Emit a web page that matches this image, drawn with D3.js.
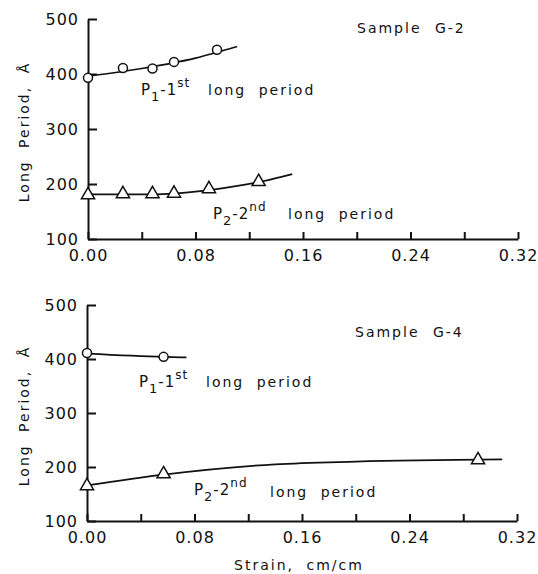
<!DOCTYPE html>
<html>
<head>
<meta charset="utf-8">
<script src="https://cdn.jsdelivr.net/npm/d3@7"></script>
<style>
  body { margin: 0; background: #fff; }
  svg text { font-family: "DejaVu Sans", sans-serif; fill: #111; }
  .axis path, .axis line { stroke: #111; stroke-width: 2; }
  .axis text { font-size: 16px; letter-spacing: 1px; }
</style>
</head>
<body>
<svg id="chart" width="538" height="574"></svg>
<script>
// Tick values
const strainTicks = [0, 0.04, 0.08, 0.12, 0.16, 0.20, 0.24, 0.28, 0.32];
const periodTicks = [100, 200, 300, 400, 500];

// Sample G-2, measured points
const g2P1Strain = [0, 0.026, 0.048, 0.064, 0.096];
const g2P1Period = [393, 411, 410, 422, 444];
const g2P2Strain = [0, 0.026, 0.048, 0.064, 0.090, 0.127];
const g2P2Period = [180, 182, 182, 183, 191, 204];
// Sample G-2, drawn curves
const g2P1FitStrain = [0, 0.04, 0.08, 0.111];
const g2P1FitPeriod = [396, 410, 429, 450];
const g2P2FitStrain = [0, 0.05, 0.08, 0.11, 0.13, 0.152];
const g2P2FitPeriod = [181, 181, 186, 196, 205, 218];

// Sample G-4, measured points
const g4P1Strain = [0, 0.057];
const g4P1Period = [411, 404];
const g4P2Strain = [0, 0.057, 0.291];
const g4P2Period = [165, 187, 213];
// Sample G-4, drawn curves
const g4P1FitStrain = [0, 0.057, 0.074];
const g4P1FitPeriod = [410, 404, 403];
const g4P2FitStrain = [0, 0.057, 0.14, 0.20, 0.309];
const g4P2FitPeriod = [166, 186, 205, 210, 214];

const svg = d3.select("#chart");

const panels = [
  { title: "Sample G-2", x0: 88, x1: 518, y0: 239, y1: 19,
    p1: [g2P1Strain, g2P1Period], p2: [g2P2Strain, g2P2Period],
    f1: [g2P1FitStrain, g2P1FitPeriod], f2: [g2P2FitStrain, g2P2FitPeriod],
    titlePos: [357, 33],
    l1: { p: [141, 95], lp: [208, 95] },
    l2: { p: [213, 219], lp: [288, 219] } },
  { title: "Sample G-4", x0: 87, x1: 517, y0: 521, y1: 305,
    p1: [g4P1Strain, g4P1Period], p2: [g4P2Strain, g4P2Period],
    f1: [g4P1FitStrain, g4P1FitPeriod], f2: [g4P2FitStrain, g4P2FitPeriod],
    titlePos: [355, 337],
    l1: { p: [139, 387], lp: [206, 387] },
    l2: { p: [194, 495], lp: [270, 497] } }
];

const zip = (xs, ys) => xs.map((v, i) => [v, ys[i]]);

panels.forEach(pn => {
  const x = d3.scaleLinear().domain([0, 0.32]).range([pn.x0, pn.x1]);
  const y = d3.scaleLinear().domain([100, 500]).range([pn.y0, pn.y1]);
  const g = svg.append("g");

  // x axis, ticks pointing up
  const xAxis = g.append("g")
    .attr("class", "axis")
    .attr("transform", `translate(0,${pn.y0})`)
    .call(d3.axisBottom(x)
      .tickValues(strainTicks)
      .tickSizeInner(-7).tickSizeOuter(0)
      .tickFormat((d, i) => i % 2 === 0 ? d3.format(".2f")(d) : ""));
  xAxis.selectAll("text").attr("y", 11).attr("dy", "0.71em");

  // y axis, ticks pointing right
  const yAxis = g.append("g")
    .attr("class", "axis")
    .attr("transform", `translate(${pn.x0},0)`)
    .call(d3.axisLeft(y)
      .tickValues(periodTicks)
      .tickSizeInner(-9).tickSizeOuter(0)
      .tickFormat(d3.format("d")));
  yAxis.selectAll("text").attr("x", -9);

  // y axis title
  g.append("text")
    .attr("transform", `translate(29,${(pn.y0 + pn.y1) / 2 + 3}) rotate(-90)`)
    .attr("text-anchor", "middle")
    .style("font-size", "14px")
    .style("letter-spacing", "2px")
    .style("word-spacing", "6px")
    .text("Long Period, Å");

  // curves
  const line = d3.line()
    .x(d => x(d[0])).y(d => y(d[1]))
    .curve(d3.curveMonotoneX);
  [pn.f1, pn.f2].forEach(f => {
    g.append("path")
      .datum(zip(f[0], f[1]))
      .attr("fill", "none")
      .attr("stroke", "#111")
      .attr("stroke-width", 1.7)
      .attr("d", line);
  });

  // circles for P1
  g.selectAll(".c")
    .data(zip(pn.p1[0], pn.p1[1]))
    .join("circle")
    .attr("cx", d => x(d[0]))
    .attr("cy", d => y(d[1]))
    .attr("r", 4.5)
    .attr("fill", "#fff")
    .attr("stroke", "#111")
    .attr("stroke-width", 1.5);

  // triangles for P2
  const tri = d3.symbol(d3.symbolTriangle, 75);
  g.selectAll(".t")
    .data(zip(pn.p2[0], pn.p2[1]))
    .join("path")
    .attr("transform", d => `translate(${x(d[0])},${y(d[1])})`)
    .attr("d", tri)
    .attr("fill", "#fff")
    .attr("stroke", "#111")
    .attr("stroke-width", 1.5);

  // sample title
  g.append("text")
    .attr("x", pn.titlePos[0]).attr("y", pn.titlePos[1])
    .style("font-size", "14px")
    .style("letter-spacing", "2px")
    .style("word-spacing", "7px")
    .text(pn.title);

  // series labels
  const seriesLabel = (pos, n, ord) => {
    const t = g.append("text")
      .attr("x", pos.p[0]).attr("y", pos.p[1])
      .style("font-size", "15px")
      .style("letter-spacing", "1px");
    t.append("tspan").text("P");
    t.append("tspan").attr("dy", 6).style("font-size", "13px").text(n);
    t.append("tspan").attr("dy", -6).text("-" + n);
    t.append("tspan").attr("dy", -8).style("font-size", "12px").text(ord);
    g.append("text")
      .attr("x", pos.lp[0]).attr("y", pos.lp[1])
      .style("font-size", "14px")
      .style("letter-spacing", "2px")
      .style("word-spacing", "6px")
      .text("long period");
  };
  seriesLabel(pn.l1, "1", "st");
  seriesLabel(pn.l2, "2", "nd");
});

// x axis title
svg.append("text")
  .attr("x", 299).attr("y", 570)
  .attr("text-anchor", "middle")
  .style("font-size", "14px")
  .style("letter-spacing", "2px")
  .style("word-spacing", "6px")
  .text("Strain, cm/cm");
</script>
</body>
</html>
